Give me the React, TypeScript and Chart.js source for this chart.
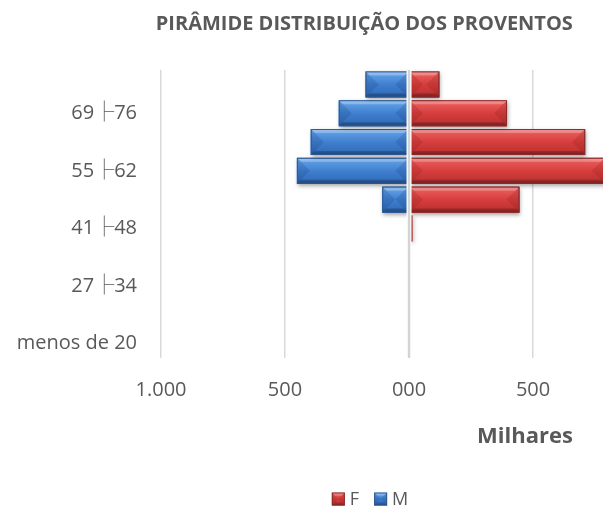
import React, { useEffect, useRef } from 'react';
import { Chart, registerables } from 'chart.js';

Chart.register(...registerables);

// ---- data (values in thousands, "Milhares") ----
const categories = ['menos de 20', '20├27', '27├34', '34├41', '41├48', '48├55', '55├62', '62├69', '69├76', '76├83'];
const shownCategoryLabels = ['menos de 20', '27├34', '41├48', '55├62', '69├76'];
const seriesNames = ['F', 'M'];
const femaleValues = [0, 0, 0, 0, 13, 445, 830, 710, 395, 122];
const maleValues = [0, 0, 0, 0, 0, -108, -452, -396, -283, -175];
const xTickValues = [-1000, -500, 0, 500];
const xTickLabels = ['1.000', '500', '000', '500'];
const xMin = -1000;
const xMax = 782;
const titleText = 'PIRÂMIDE DISTRIBUIÇÃO DOS PROVENTOS';
const axisTitleText = 'Milhares';

const FONT = "'Open Sans', 'Noto Sans CJK JP', sans-serif";
const TEXT = '#595959';

const palettes = [
  { light: '#f2817f', light2: '#e55654', mid: '#d63e3d', mid2: '#c23434', dark: '#8c2222', end: 'rgba(120,20,20,0.18)', border: '#8a2b2b' },
  { light: '#86b9f0', light2: '#5a99e1', mid: '#3f80d0', mid2: '#3570bc', dark: '#234f8e', end: 'rgba(20,50,110,0.18)', border: '#2e5a93' },
];

function drawBevelRect(ctx: CanvasRenderingContext2D, l: number, t: number, r: number, b: number, pal: any, shadow: boolean) {
  const w = r - l;
  const h = b - t;
  if (shadow) {
    ctx.save();
    ctx.shadowColor = 'rgba(0,0,0,0.35)';
    ctx.shadowBlur = 4;
    ctx.shadowOffsetX = 1;
    ctx.shadowOffsetY = 2;
    ctx.fillStyle = pal.mid;
    ctx.fillRect(l, t, w, h);
    ctx.restore();
  }
  const g = ctx.createLinearGradient(0, t, 0, b);
  g.addColorStop(0, pal.light);
  g.addColorStop(0.18, pal.light2);
  g.addColorStop(0.5, pal.mid);
  g.addColorStop(0.82, pal.mid2);
  g.addColorStop(1, pal.dark);
  ctx.fillStyle = g;
  ctx.fillRect(l, t, w, h);
  const d = Math.min(h / 2, w / 2);
  ctx.fillStyle = pal.end;
  ctx.beginPath();
  ctx.moveTo(l, t);
  ctx.lineTo(l + d, t + h / 2);
  ctx.lineTo(l, b);
  ctx.closePath();
  ctx.fill();
  ctx.beginPath();
  ctx.moveTo(r, t);
  ctx.lineTo(r - d, t + h / 2);
  ctx.lineTo(r, b);
  ctx.closePath();
  ctx.fill();
  const bv = Math.min(4, h / 4, w / 2);
  ctx.fillStyle = 'rgba(255,255,255,0.22)';
  ctx.beginPath();
  ctx.moveTo(l, t);
  ctx.lineTo(r, t);
  ctx.lineTo(r - bv, t + bv);
  ctx.lineTo(l + bv, t + bv);
  ctx.closePath();
  ctx.fill();
  ctx.fillStyle = 'rgba(0,0,0,0.15)';
  ctx.beginPath();
  ctx.moveTo(l, b);
  ctx.lineTo(r, b);
  ctx.lineTo(r - bv, b - bv);
  ctx.lineTo(l + bv, b - bv);
  ctx.closePath();
  ctx.fill();
  ctx.strokeStyle = pal.border;
  ctx.lineWidth = 1;
  ctx.strokeRect(l + 0.5, t + 0.5, Math.max(w - 1, 0), Math.max(h - 1, 0));
}

const decorPlugin = {
  id: 'decor',
  afterDatasetsDraw(chart: any) {
    const ctx: CanvasRenderingContext2D = chart.ctx;
    const area = chart.chartArea;
    ctx.save();
    ctx.beginPath();
    ctx.rect(area.left, area.top - 5, area.right - area.left, area.bottom - area.top + 10);
    ctx.clip();
    chart.data.datasets.forEach((_ds: any, di: number) => {
      const meta = chart.getDatasetMeta(di);
      meta.data.forEach((el: any) => {
        const p = el.getProps(['x', 'y', 'base', 'height'], true);
        const l = Math.min(p.x, p.base);
        const r = Math.min(Math.max(p.x, p.base), area.right + 2);
        if (r - l < 0.5) return;
        const t = p.y - p.height / 2;
        const b = p.y + p.height / 2;
        drawBevelRect(ctx, l, t, r, b, palettes[di], true);
      });
    });
    ctx.restore();
    // zero line
    const x0 = chart.scales.x.getPixelForValue(0);
    ctx.save();
    ctx.beginPath();
    ctx.moveTo(x0, area.top);
    ctx.lineTo(x0, area.bottom);
    ctx.strokeStyle = '#ffffff';
    ctx.lineWidth = 5;
    ctx.stroke();
    ctx.beginPath();
    ctx.moveTo(x0, area.top);
    ctx.lineTo(x0, area.bottom);
    ctx.strokeStyle = '#d4d4d4';
    ctx.lineWidth = 2.5;
    ctx.stroke();
    ctx.restore();
  },
  afterDraw(chart: any) {
    const ctx: CanvasRenderingContext2D = chart.ctx;
    const area = chart.chartArea;
    ctx.save();
    // title
    ctx.fillStyle = TEXT;
    ctx.font = `bold 20px ${FONT}`;
    ctx.textAlign = 'center';
    ctx.textBaseline = 'alphabetic';
    ctx.fillText(titleText, area.left + (area.right - area.left) * 0.46, 30);
    // axis title
    ctx.font = `bold 22px ${FONT}`;
    ctx.fillText(axisTitleText, area.right - 78, area.bottom + 85);
    // legend
    ctx.font = `18px ${FONT}`;
    ctx.textAlign = 'left';
    ctx.textBaseline = 'middle';
    const box = 13;
    const gap = 5;
    const spacing = 15;
    const widths = seriesNames.map((n) => box + gap + ctx.measureText(n).width);
    const total = widths.reduce((a, b) => a + b, 0) + spacing * (seriesNames.length - 1);
    let x = area.left + (area.right - area.left) * 0.473 - total / 2;
    const cy = area.bottom + 141;
    seriesNames.forEach((n, i) => {
      drawBevelRect(ctx, x, cy - box / 2, x + box, cy + box / 2, palettes[i], false);
      ctx.fillStyle = TEXT;
      ctx.fillText(n, x + box + gap, cy + 1);
      x += widths[i] + spacing;
    });
    ctx.restore();
  },
};

export default function App() {
  const ref = useRef<HTMLCanvasElement | null>(null);
  useEffect(() => {
    document.body.style.margin = '0';
    const canvas = ref.current;
    if (!canvas) return;
    const chart = new Chart(canvas, {
      type: 'bar',
      data: {
        labels: categories,
        datasets: [
          { label: seriesNames[0], data: femaleValues, backgroundColor: palettes[0].mid, borderWidth: 0 },
          { label: seriesNames[1], data: maleValues, backgroundColor: palettes[1].mid, borderWidth: 0 },
        ],
      },
      options: {
        indexAxis: 'y',
        animation: false,
        responsive: false,
        maintainAspectRatio: false,
        devicePixelRatio: 1,
        layout: { padding: { top: 70, right: 13, bottom: 0, left: 0 } },
        datasets: { bar: { categoryPercentage: 1, barPercentage: 0.9 } },
        scales: {
          x: {
            type: 'linear',
            min: xMin,
            max: xMax,
            stacked: true,
            afterFit: (s: any) => { s.height = 151; },
            afterBuildTicks: (s: any) => { s.ticks = xTickValues.map((v) => ({ value: v })); },
            ticks: {
              autoSkip: false,
              maxRotation: 0,
              padding: 20,
              color: TEXT,
              font: { family: FONT, size: 20 },
              callback: (v: any) => {
                const i = xTickValues.indexOf(Number(v));
                return i >= 0 ? xTickLabels[i] : '';
              },
            },
            grid: { color: '#d9d9d9', lineWidth: 1.5, drawTicks: false },
            border: { display: false },
          },
          y: {
            stacked: true,
            reverse: true,
            afterFit: (s: any) => { s.width = 161; },
            ticks: {
              autoSkip: false,
              padding: 24,
              color: TEXT,
              font: { family: FONT, size: 20 },
              callback: (_v: any, i: number) => (shownCategoryLabels.includes(categories[i]) ? categories[i] : ''),
            },
            grid: { display: false, drawTicks: false },
            border: { display: false },
          },
        },
        plugins: {
          legend: { display: false },
          title: { display: false },
          tooltip: { enabled: false },
        },
      },
      plugins: [decorPlugin],
    } as any);
    return () => chart.destroy();
  }, []);
  return (
    <div style={{ width: 616, height: 509, background: '#fff' }}>
      <canvas ref={ref} width={616} height={509} style={{ display: 'block', width: 616, height: 509 }} />
    </div>
  );
}
